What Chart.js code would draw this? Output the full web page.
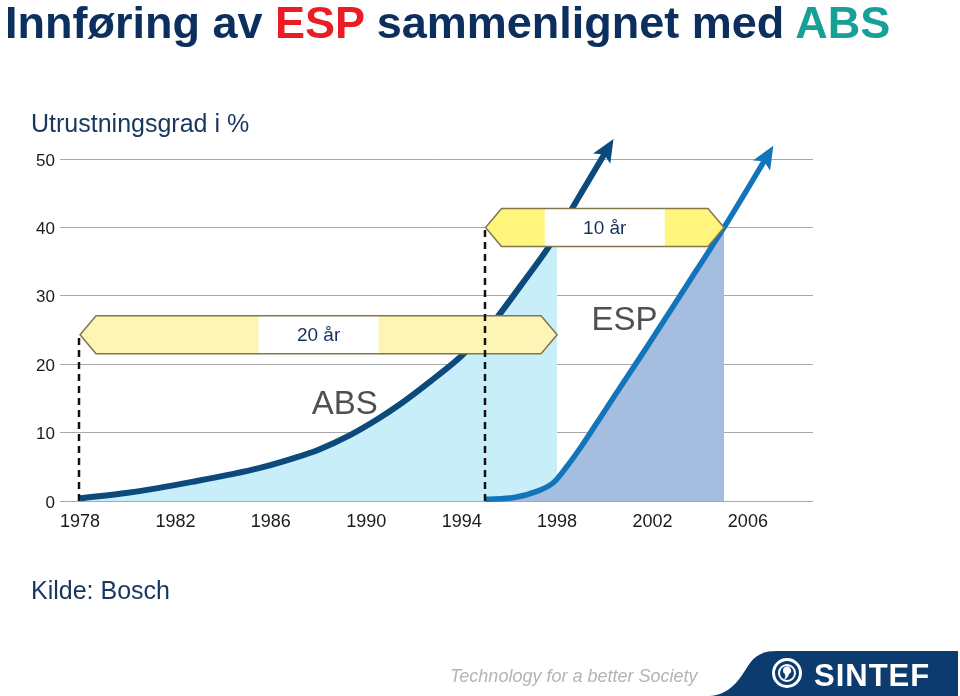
<!DOCTYPE html>
<html><head><meta charset="utf-8">
<script src="https://cdn.jsdelivr.net/npm/chart.js@4.4.0/dist/chart.umd.min.js"></script>
<style>
html,body{margin:0;padding:0;background:#fff;}
#wrap{position:relative;width:960px;height:696px;overflow:hidden;font-family:"Liberation Sans",Arial,Helvetica,sans-serif;}
#c{position:absolute;left:0;top:0;}
.t{position:absolute;white-space:nowrap;line-height:1;}
svg{position:absolute;left:0;top:0;pointer-events:none;}
</style></head><body>
<div id="wrap">
<canvas id="c" width="960" height="696"></canvas>
<div class="t" style="left:5px;top:0px;font-size:45px;font-weight:bold;color:#0c2f5e;">Innføring av <span style="color:#ec1c24">ESP</span> sammenlignet med <span style="color:#17a096">ABS</span></div>
<div class="t" style="left:31px;top:111px;font-size:25px;color:#17375e;">Utrustningsgrad i %</div>
<div class="t" style="left:31px;top:578px;font-size:25px;color:#17375e;">Kilde: Bosch</div>
<div class="t" style="left:450px;top:667px;font-size:18px;font-style:italic;color:#b4b4b4;">Technology for a better Society</div>
<svg width="960" height="696">
<path d="M710 696 C 734 694, 742 674, 750 663 C 756 655, 763 651, 777 651 L 958 651 L 958 696 Z" fill="#0c3b6f"/>
<circle cx="787" cy="673" r="13.5" fill="none" stroke="#fff" stroke-width="3"/>
<circle cx="787" cy="673" r="8" fill="none" stroke="#fff" stroke-width="2"/>
<path d="M785 667 a4 4 0 1 1 4 7 q-1 4 -5 6 q2 -3 1 -6 a4 4 0 0 1 0 -7 z" fill="#fff"/>
<text x="814" y="686" fill="#fff" font-size="31" font-weight="bold" letter-spacing="1" font-family="Liberation Sans, Arial, sans-serif">SINTEF</text>
</svg>
</div>
<script>
// ---- data ----
const yearTicks = [1978, 1982, 1986, 1990, 1994, 1998, 2002, 2006];
const absYears  = [1978.0, 1980.0, 1982.7, 1985.5, 1987.0, 1988.0, 1989.3, 1990.4, 1991.4, 1992.8, 1993.8, 1994.4, 1995.0, 1995.5, 1996.5, 1997.6, 1998.0, 1998.55, 1999.4, 2000.0];
const absValues = [0.4,    1.2,    2.8,    4.8,    6.3,    7.5,    9.6,    11.8,   14.1,   17.8,   20.6,   22.6,   24.8,   26.9,   31.6,   36.9,   39.1,   42.3,    47.3,   50.8];
const espYears  = [1995.0, 1996.2, 1997.15, 1997.85, 1998.4, 1999.0, 1999.7, 2000.4, 2001.1, 2001.8, 2002.6, 2003.8, 2005.0, 2006.1, 2006.7];
const espValues = [0.25,   0.5,    1.4,     2.7,     5.0,    7.9,    11.6,   15.3,   19.0,   22.7,   27.0,   33.5,   40.0,   46.3,   49.8];
const absShadeEnd = 1998;   // ABS area shaded up to this year
const espShadeEnd = 2005;   // ESP area shaded up to this year
const spans = [
  {from: 1978, to: 1998, level: 24.3, label: '20 år', fill: '#fcf5b6'},
  {from: 1995, to: 2005, level: 40.0, label: '10 år', fill: '#fff47c'}
];
const curveLabels = [
  {text: 'ABS', year: 1989.1, value: 14.0},
  {text: 'ESP', year: 2000.83, value: 26.3}
];

const pts = (xs, ys) => xs.map((x, i) => ({x: x, y: ys[i]}));
const absPts = pts(absYears, absValues);
const espPts = pts(espYears, espValues);

const ABS_COLOR = '#0c4a7b';
const ESP_COLOR = '#1274bb';

const arrowHeads = {
  id: 'arrowHeads',
  afterDatasetsDraw(chart) {
    const ctx = chart.ctx;
    [0, 1].forEach(di => {
      const meta = chart.getDatasetMeta(di);
      const n = meta.data.length;
      const p = meta.data[n - 1], q = meta.data[n - 2];
      let dx = p.x - q.x, dy = p.y - q.y;
      const len = Math.hypot(dx, dy); dx /= len; dy /= len;
      const nx = -dy, ny = dx;
      const col = chart.data.datasets[di].borderColor;
      ctx.save();
      ctx.fillStyle = col;
      ctx.beginPath();
      ctx.moveTo(p.x + dx * 17, p.y + dy * 17);
      ctx.lineTo(p.x - dx * 6 + nx * 10, p.y - dy * 6 + ny * 10);
      ctx.lineTo(p.x - dx * 1, p.y - dy * 1);
      ctx.lineTo(p.x - dx * 6 - nx * 10, p.y - dy * 6 - ny * 10);
      ctx.closePath();
      ctx.fill();
      ctx.restore();
    });
  }
};

const annotations = {
  id: 'annotations',
  afterDatasetsDraw(chart) {
    const ctx = chart.ctx, xs = chart.scales.x, ys = chart.scales.y;
    ctx.save();
    spans.forEach(s => {
      const xL = xs.getPixelForValue(s.from), xR = xs.getPixelForValue(s.to), yc = ys.getPixelForValue(s.level);
      const h = 19, tip = 16;
      ctx.beginPath();
      ctx.moveTo(xL, yc);
      ctx.lineTo(xL + tip, yc - h);
      ctx.lineTo(xR - tip, yc - h);
      ctx.lineTo(xR, yc);
      ctx.lineTo(xR - tip, yc + h);
      ctx.lineTo(xL + tip, yc + h);
      ctx.closePath();
      ctx.fillStyle = s.fill;
      ctx.fill();
      const cx = (xL + xR) / 2;
      ctx.fillStyle = '#ffffff';
      ctx.fillRect(cx - 60, yc - h, 120, 2 * h);
      ctx.strokeStyle = '#80764a';
      ctx.lineWidth = 1.5;
      ctx.stroke();
      ctx.fillStyle = '#12325f';
      ctx.font = '19px "Liberation Sans", Arial, sans-serif';
      ctx.textAlign = 'center';
      ctx.textBaseline = 'middle';
      ctx.fillText(s.label, cx, yc + 1);
    });
    ctx.strokeStyle = '#111111';
    ctx.lineWidth = 2.5;
    ctx.setLineDash([7, 5]);
    spans.forEach(s => {
      const x = Math.round(xs.getPixelForValue(s.from)) - 1;
      ctx.beginPath();
      ctx.moveTo(x, ys.getPixelForValue(0));
      ctx.lineTo(x, ys.getPixelForValue(s.level));
      ctx.stroke();
    });
    ctx.setLineDash([]);
    ctx.fillStyle = '#505050';
    ctx.font = '33px "Liberation Sans", Arial, sans-serif';
    ctx.textAlign = 'center';
    ctx.textBaseline = 'middle';
    curveLabels.forEach(l => {
      ctx.fillText(l.text, xs.getPixelForValue(l.year), ys.getPixelForValue(l.value));
    });
    ctx.restore();
  }
};

new Chart(document.getElementById('c'), {
  type: 'line',
  data: {
    datasets: [
      {data: absPts, borderColor: ABS_COLOR, borderWidth: 6, pointRadius: 0, fill: false,
       cubicInterpolationMode: 'monotone', clip: false, order: 1, borderCapStyle: 'butt'},
      {data: espPts, borderColor: ESP_COLOR, borderWidth: 5.5, pointRadius: 0, fill: false,
       cubicInterpolationMode: 'monotone', clip: false, order: 2, borderCapStyle: 'butt'},
      {data: espPts.filter(p => p.x <= espShadeEnd), borderWidth: 0, borderColor: 'rgba(0,0,0,0)',
       backgroundColor: '#a5bee0', fill: 'origin', pointRadius: 0, cubicInterpolationMode: 'monotone', order: 3},
      {data: absPts.filter(p => p.x <= absShadeEnd), borderWidth: 0, borderColor: 'rgba(0,0,0,0)',
       backgroundColor: '#c8eefa', fill: 'origin', pointRadius: 0, cubicInterpolationMode: 'monotone', order: 4}
    ]
  },
  options: {
    responsive: false,
    animation: false,
    devicePixelRatio: 1,
    layout: {padding: {left: 0, right: 147, top: 159, bottom: 155}},
    plugins: {legend: {display: false}, tooltip: {enabled: false}},
    scales: {
      x: {
        type: 'linear',
        min: 1977.16,
        max: 2008.73,
        grid: {display: false, drawTicks: false},
        border: {display: false},
        afterBuildTicks: s => { s.ticks = yearTicks.map(v => ({value: v})); },
        afterFit: s => { s.height = 40; },
        ticks: {
          autoSkip: false, maxRotation: 0, padding: 10,
          color: '#1a1a1a',
          font: {family: '"Liberation Sans", Arial, sans-serif', size: 18},
          callback: v => String(v)
        }
      },
      y: {
        min: 0, max: 50,
        grid: {color: '#a9a9a9', lineWidth: 1, drawTicks: false},
        border: {display: false},
        afterFit: s => { s.width = 60; },
        ticks: {
          stepSize: 10, padding: 5, labelOffset: 2,
          color: '#1a1a1a',
          font: {family: '"Liberation Sans", Arial, sans-serif', size: 17}
        }
      }
    }
  },
  plugins: [arrowHeads, annotations]
});
</script>
</body></html>
